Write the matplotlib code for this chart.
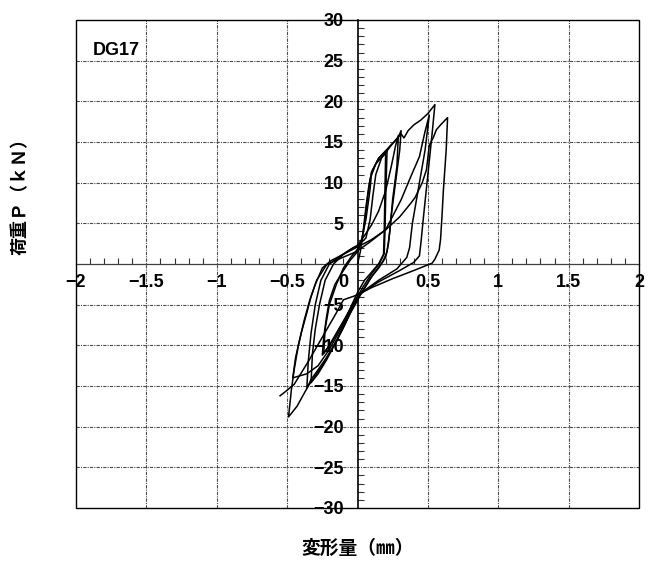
import matplotlib
matplotlib.use("Agg")
import matplotlib.pyplot as plt
from matplotlib import font_manager
from matplotlib.patches import Rectangle
from matplotlib.ticker import MultipleLocator, FixedLocator

# ---- load-displacement record, one list pair per loading cycle ----
cycle1_x = [0.0, 0.02, 0.04, 0.06, 0.08, 0.10, 0.15, 0.21,
            0.205, 0.20, 0.195, 0.19, 0.16, 0.10, 0.05, 0.0,
            -0.04, -0.08, -0.13, -0.18, -0.22, -0.25,
            -0.24, -0.22, -0.20, -0.16, -0.10, -0.05, 0.0]
cycle1_y = [0.0, 1.5, 4.0, 7.0, 9.5, 11.3, 13.0, 14.0,
            11.0, 7.9, 4.0, 1.3, 0.2, -1.0, -2.0, -3.5,
            -5.0, -6.5, -8.0, -9.5, -10.5, -11.2,
            -9.0, -6.5, -4.5, -2.5, -0.8, 0.5, 1.5]

cycle2_x = [0.0, 0.03, 0.05, 0.07, 0.09, 0.13, 0.18, 0.20,
            0.195, 0.19, 0.185, 0.15, 0.10, 0.04, 0.0,
            -0.05, -0.10, -0.15, -0.20, -0.24,
            -0.23, -0.20, -0.15, -0.10, -0.04, 0.0]
cycle2_y = [1.5, 2.8, 5.0, 8.0, 10.5, 12.3, 13.3, 13.6,
            9.0, 4.0, 1.2, 0.0, -1.2, -2.8, -4.0,
            -5.5, -7.0, -8.5, -10.0, -11.0,
            -8.0, -5.0, -2.5, -0.5, 1.0, 1.8]

cycle3_x = [0.0, 0.03, 0.06, 0.08, 0.09, 0.10, 0.15, 0.22, 0.29, 0.31,
            0.30, 0.27, 0.24, 0.22, 0.20, 0.15, 0.09, 0.03, 0.0,
            -0.05, -0.10, -0.15, -0.22, -0.28, -0.33, -0.36,
            -0.35, -0.33, -0.30, -0.26, -0.20, -0.12, -0.05, 0.0]
cycle3_y = [1.8, 3.0, 5.5, 8.0, 9.3, 11.3, 13.0, 14.3, 15.6, 16.4,
            14.0, 10.0, 6.0, 2.5, 0.8, -0.5, -1.8, -3.5, -4.5,
            -6.0, -7.8, -9.5, -11.5, -13.0, -14.2, -15.3,
            -12.0, -8.5, -5.0, -2.0, 0.0, 1.0, 1.8, 2.3]

cycle4_x = [0.0, 0.05, 0.10, 0.15, 0.20, 0.24, 0.27, 0.29,
            0.28, 0.25, 0.23, 0.21, 0.18, 0.11, 0.05, 0.0,
            -0.05, -0.10, -0.16, -0.22, -0.28, -0.33,
            -0.32, -0.30, -0.27, -0.23, -0.17, -0.10, -0.03, 0.0]
cycle4_y = [2.3, 3.5, 4.8, 6.5, 9.0, 12.0, 14.5, 15.8,
            12.0, 8.0, 4.0, 1.5, 0.3, -1.3, -3.0, -4.2,
            -6.0, -7.8, -9.8, -11.8, -13.5, -14.6,
            -11.0, -8.0, -5.0, -2.0, 0.0, 1.2, 2.0, 2.2]

cycle5_x = [0.0, 0.06, 0.09, 0.11, 0.13, 0.17, 0.24, 0.31, 0.33, 0.36,
            0.40, 0.45, 0.50, 0.55,
            0.53, 0.50, 0.47, 0.45, 0.44, 0.40, 0.30, 0.15, 0.05, 0.0,
            -0.05, -0.12, -0.20, -0.28, -0.36, -0.42, -0.46,
            -0.44, -0.40, -0.36, -0.33, -0.29, -0.22, -0.12, -0.01]
cycle5_y = [2.2, 3.2, 5.5, 8.5, 11.0, 13.0, 14.6, 16.0, 15.5, 16.4,
            17.1, 17.7, 18.5, 19.6,
            16.0, 11.0, 6.0, 2.5, 1.0, 0.2, -0.8, -2.2, -3.3, -4.0,
            -5.5, -8.0, -10.5, -12.5, -13.5, -13.8, -14.0,
            -11.5, -8.5, -6.0, -4.0, -2.0, -0.1, 0.7, 1.5]

cycle6_x = [-0.01, 0.08, 0.20, 0.31, 0.38, 0.44, 0.48, 0.51,
            0.48, 0.43, 0.39, 0.37, 0.35, 0.28, 0.15, 0.03, 0.0,
            -0.06, -0.15, -0.25, -0.35, -0.43, -0.49,
            -0.47, -0.45, -0.42, -0.38, -0.34, -0.30, -0.25, -0.19, -0.10, 0.0]
cycle6_y = [1.5, 2.6, 4.2, 7.9, 10.8, 13.2, 16.3, 18.3,
            14.0, 9.0, 5.0, 2.0, 0.8, -0.6, -2.0, -3.5, -4.2,
            -6.0, -9.5, -12.5, -15.0, -17.5, -18.8,
            -15.5, -13.0, -10.0, -7.0, -4.5, -2.5, -0.5, 0.4, 1.2, 2.1]

cycle7_x = [0.0, 0.10, 0.20, 0.30, 0.38, 0.41, 0.46, 0.49, 0.51, 0.54, 0.56,
            0.59, 0.64,
            0.63, 0.61, 0.60, 0.59, 0.58, 0.55, 0.53, 0.40, 0.25, 0.10, 0.0, -0.10,
            -0.15, -0.25, -0.35, -0.45, -0.52, -0.55]
cycle7_y = [2.1, 3.0, 4.2, 5.8, 7.5, 8.2, 10.0, 11.6, 14.6, 15.6, 16.5,
            17.1, 18.0,
            14.0, 9.0, 5.8, 3.0, 1.7, 0.6, 0.1, -0.8, -1.8, -2.9, -3.8, -4.4,
            -6.0, -9.0, -12.0, -14.8, -15.8, -16.2]

cycles = [(cycle1_x, cycle1_y), (cycle2_x, cycle2_y), (cycle3_x, cycle3_y),
          (cycle4_x, cycle4_y), (cycle5_x, cycle5_y), (cycle6_x, cycle6_y),
          (cycle7_x, cycle7_y)]

x_ticks = [-2, -1.5, -1, -0.5, 0.5, 1, 1.5, 2]
x_tick_labels = ["−2", "−1.5", "−1", "−0.5", "0.5", "1", "1.5", "2"]
y_ticks = [30, 25, 20, 15, 10, 5, -5, -10, -15, -20, -25, -30]
y_tick_labels = ["30", "25", "20", "15", "10", "5",
                 "−5", "−10", "−15", "−20", "−25", "−30"]

specimen = "DG17"
x_label = "変形量（㎜）"
y_label = "荷重Ｐ（ｋＮ）"

# ---- fonts ----
available = {f.name for f in font_manager.fontManager.ttflist}
num_family = "DejaVu Sans"
for cand in ["Liberation Sans Narrow", "Liberation Sans"]:
    if cand in available:
        num_family = cand
        break
cjk_family = ["Noto Sans CJK JP", "DejaVu Sans"]

fig = plt.figure(figsize=(6.6, 5.66), dpi=100)
ax = fig.add_axes([76 / 660, 1 - 508 / 566, 563 / 660, 488 / 566])
ax.set_xlim(-2, 2)
ax.set_ylim(-30, 30)

# grid
for gx in [-1.5, -1, -0.5, 0.5, 1, 1.5]:
    ax.axvline(gx, color="0.3", lw=0.8, ls=(0, (3, 1, 1, 1)), zorder=1)
for gy in [25, 20, 15, 10, 5, -5, -10, -15, -20, -25]:
    ax.axhline(gy, color="0.3", lw=0.8, ls=(0, (3, 1, 1, 1)), zorder=1)

# outer frame
ax.add_patch(Rectangle((0, 0), 1, 1, transform=ax.transAxes, fill=False,
                       lw=1.0, edgecolor="black", zorder=3, clip_on=False))

# axes through the origin
for side in ["top", "right"]:
    ax.spines[side].set_visible(False)
ax.spines["left"].set_position(("data", 0))
ax.spines["bottom"].set_position(("data", 0))
ax.spines["left"].set_linewidth(1.2)
ax.spines["bottom"].set_linewidth(0.9)
ax.spines["bottom"].set_color("0.25")

ax.xaxis.set_major_locator(FixedLocator(x_ticks))
ax.set_xticklabels(x_tick_labels)
ax.yaxis.set_major_locator(FixedLocator(y_ticks))
ax.set_yticklabels(y_tick_labels)
ax.xaxis.set_minor_locator(MultipleLocator(0.1))
ax.yaxis.set_minor_locator(MultipleLocator(1))

ax.tick_params(which="major", length=0)
ax.tick_params(axis="x", which="major", pad=7)
ax.tick_params(axis="y", which="major", pad=10)
ax.tick_params(which="minor", direction="in", length=4, width=0.8, color="0.2")
for lab in ax.get_xticklabels() + ax.get_yticklabels():
    lab.set_fontfamily(num_family)
    lab.set_fontsize(13)
    lab.set_fontweight("bold")

ax.text(-0.1, -1.2, "0", ha="center", va="top", fontsize=13, family=num_family,
        fontweight="bold")

# hysteresis curves
for cx, cy in cycles:
    ax.plot(cx, cy, color="black", lw=1.1, zorder=4, solid_joinstyle="round")

ax.text(0.03, 0.955, specimen, transform=ax.transAxes, ha="left", va="top",
        fontsize=13, family=num_family, fontweight="bold")

fig.text(20 / 660, 1 - 192 / 566, y_label, rotation=90, ha="center", va="center",
         fontsize=13, family=cjk_family, fontweight="bold")
fig.text(358 / 660, 1 - 548 / 566, x_label, ha="center", va="center",
         fontsize=13.5, family=cjk_family, fontweight="bold")

fig.savefig("out.png", dpi=100)
